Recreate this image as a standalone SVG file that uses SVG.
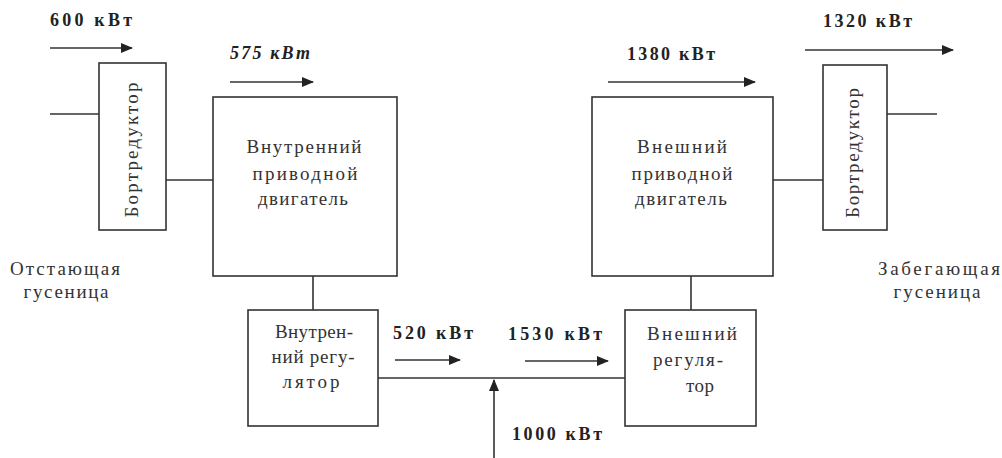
<svg xmlns="http://www.w3.org/2000/svg" width="1002" height="458" viewBox="0 0 1002 458">
<style>
.box{fill:#fff;stroke:#333;stroke-width:1.6}
.ln{fill:none;stroke:#333;stroke-width:1.6}
.ar{fill:none;stroke:#333;stroke-width:1.6;marker-end:url(#ah)}
.lb{font-family:"Liberation Serif",serif;font-weight:bold;font-size:18px;fill:#222}
.tx{font-family:"Liberation Serif",serif;font-size:19px;fill:#333}
.c{text-anchor:middle}
</style>
<defs>
<marker id="ah" markerUnits="userSpaceOnUse" markerWidth="12" markerHeight="10" refX="11" refY="5" orient="auto">
<path d="M0,0 L12,5 L0,10 Z" fill="#222"/>
</marker>
</defs>
<g id="connectors">
<line class="ln" x1="50" y1="114" x2="99" y2="114"/>
<line class="ln" x1="166" y1="180" x2="213" y2="180"/>
<line class="ln" x1="773" y1="180" x2="823" y2="180"/>
<line class="ln" x1="887" y1="114" x2="937" y2="114"/>
<line class="ln" x1="313" y1="276" x2="313" y2="310"/>
<line class="ln" x1="691" y1="276" x2="691" y2="310"/>
<line class="ln" x1="378" y1="378" x2="625" y2="378"/>
<line class="ar" x1="494" y1="458" x2="494" y2="380"/>
<line class="ar" x1="50" y1="48" x2="132" y2="48"/>
<line class="ar" x1="230" y1="82" x2="313" y2="82"/>
<line class="ar" x1="395" y1="360" x2="460" y2="360"/>
<line class="ar" x1="525" y1="361" x2="608" y2="361"/>
<line class="ar" x1="608" y1="82" x2="755" y2="82"/>
<line class="ar" x1="805" y1="50" x2="953" y2="50"/>
</g>
<g id="labels">
<text class="lb" x="50" y="26" textLength="82" lengthAdjust="spacing">600 кВт</text>
<text class="lb" x="230" y="59" textLength="80" lengthAdjust="spacing" font-style="italic">575 кВт</text>
<text class="lb" x="393" y="339" textLength="80" lengthAdjust="spacing">520 кВт</text>
<text class="lb" x="508" y="340" textLength="94" lengthAdjust="spacing">1530 кВт</text>
<text class="lb" x="512" y="440" textLength="90" lengthAdjust="spacing">1000 кВт</text>
<text class="lb" x="627" y="60" textLength="88" lengthAdjust="spacing">1380 кВт</text>
<text class="lb" x="823" y="27" textLength="89" lengthAdjust="spacing">1320 кВт</text>
</g>
<g id="left-bortreductor">
<rect class="box" x="99" y="63" width="67" height="167"/>
<text class="tx c" transform="translate(138,150) rotate(-90)" textLength="135" lengthAdjust="spacing">Бортредуктор</text>
</g>
<g id="inner-motor">
<rect class="box" x="213" y="97" width="184" height="179"/>
<text class="tx c" x="304" y="153" textLength="115" lengthAdjust="spacing">Внутренний</text>
<text class="tx c" x="305" y="180" textLength="105" lengthAdjust="spacing">приводной</text>
<text class="tx c" x="303" y="205" textLength="90" lengthAdjust="spacing">двигатель</text>
</g>
<g id="inner-regulator">
<rect class="box" x="248" y="310" width="130" height="116"/>
<text class="tx c" x="314" y="338" textLength="78" lengthAdjust="spacing">Внутрен-</text>
<text class="tx c" x="313" y="363" textLength="83" lengthAdjust="spacing">ний регу-</text>
<text class="tx c" x="311" y="388" textLength="57" lengthAdjust="spacing">лятор</text>
</g>
<g id="outer-motor">
<rect class="box" x="592" y="97" width="181" height="179"/>
<text class="tx c" x="682" y="153" textLength="90" lengthAdjust="spacing">Внешний</text>
<text class="tx c" x="682" y="180" textLength="101" lengthAdjust="spacing">приводной</text>
<text class="tx c" x="681" y="205" textLength="92" lengthAdjust="spacing">двигатель</text>
</g>
<g id="outer-regulator">
<rect class="box" x="625" y="310" width="131" height="116"/>
<text class="tx c" x="692" y="340" textLength="90" lengthAdjust="spacing">Внешний</text>
<text class="tx c" x="688" y="366" textLength="70" lengthAdjust="spacing">регуля-</text>
<text class="tx c" x="700" y="392" textLength="28" lengthAdjust="spacing">тор</text>
</g>
<g id="right-bortreductor">
<rect class="box" x="823" y="65" width="64" height="165"/>
<text class="tx c" transform="translate(859,153) rotate(-90)" textLength="130" lengthAdjust="spacing">Бортредуктор</text>
</g>
<g id="lagging-track">
<text class="tx c" x="65" y="275" textLength="110" lengthAdjust="spacing">Отстающая</text>
<text class="tx c" x="66" y="298" textLength="85" lengthAdjust="spacing">гусеница</text>
</g>
<g id="leading-track">
<text class="tx c" x="939" y="275" textLength="122" lengthAdjust="spacing">Забегающая</text>
<text class="tx c" x="937" y="298" textLength="87" lengthAdjust="spacing">гусеница</text>
</g>
</svg>
